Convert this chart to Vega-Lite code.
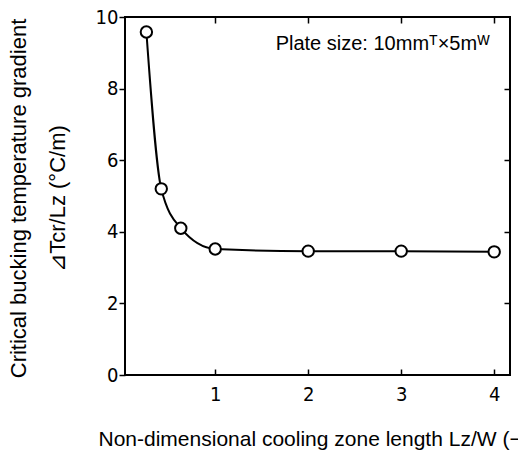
{
  "$schema": "https://vega.github.io/schema/vega-lite/v6.json",
  "width": 385,
  "height": 358,
  "autosize": {"type": "none"},
  "padding": {"left": 125, "top": 17, "right": 8, "bottom": 78},
  "background": "white",
  "config": {
    "view": {"stroke": "black", "strokeWidth": 2},
    "axis": {
      "grid": false,
      "domain": false,
      "tickColor": "black",
      "tickWidth": 1.5,
      "gridColor": "black",
      "gridOpacity": 1,
      "gridWidth": 1.5,
      "gridDash": [6, 2000],
      "labelColor": "black",
      "labelFont": "Liberation Sans Narrow, DejaVu Sans Condensed, sans-serif",
      "labelFontSize": 20,
      "titleColor": "black",
      "titleFont": "Liberation Sans, Arial, sans-serif",
      "titleFontWeight": "normal",
      "titleFontSize": 21
    }
  },
  "data": {
    "values": [
      {"x": 0.26, "y": 9.58},
      {"x": 0.42, "y": 5.2},
      {"x": 0.63, "y": 4.1},
      {"x": 1.0, "y": 3.52},
      {"x": 2.0, "y": 3.46},
      {"x": 3.0, "y": 3.46},
      {"x": 4.0, "y": 3.44}
    ]
  },
  "layer": [
    {
      "mark": {"type": "line", "interpolate": "monotone", "color": "black", "strokeWidth": 2},
      "encoding": {
        "x": {
          "field": "x", "type": "quantitative",
          "scale": {"domain": [0.03, 4.17], "nice": false, "zero": false},
          "axis": {
            "orient": "bottom",
            "values": [1, 2, 3, 4],
            "ticks": false,
            "grid": true,
            "labelPadding": 9,
            "title": "Non-dimensional cooling zone length Lz/W (−)",
            "titleAnchor": "start",
            "titleAlign": "left",
            "titleBaseline": "alphabetic",
            "titleX": -27,
            "titleY": 70
          }
        },
        "y": {
          "field": "y", "type": "quantitative",
          "scale": {"domain": [0, 10], "nice": false},
          "axis": {
            "orient": "left",
            "values": [0, 2, 4, 6, 8, 10],
            "tickSize": 6,
            "labelPadding": 1,
            "title": ["Critical bucking temperature gradient", "⊿Tcr/Lz (°C/m)"],
            "titleFontSize": 22,
            "titleLineHeight": 39,
            "titleAngle": -90,
            "titleAnchor": "middle",
            "titleBaseline": "top",
            "titleX": -117,
            "titleY": 181
          }
        }
      }
    },
    {
      "mark": {"type": "point", "shape": "circle", "filled": true, "fill": "white", "stroke": "black", "strokeWidth": 2, "size": 130, "opacity": 1},
      "encoding": {
        "x": {
          "field": "x", "type": "quantitative",
          "axis": {"orient": "top", "values": [1, 2, 3, 4], "labels": false, "ticks": false, "grid": true, "title": null}
        },
        "y": {
          "field": "y", "type": "quantitative",
          "axis": {"orient": "right", "values": [2, 4, 6, 8], "labels": false, "ticks": false, "grid": true, "title": null}
        }
      }
    },
    {
      "data": {"values": [{"x": 1.65, "y": 9.08, "label": "Plate size: 10mmᵀ×5mᵂ"}]},
      "mark": {"type": "text", "align": "left", "baseline": "alphabetic", "font": "Liberation Sans, Arial, sans-serif", "fontSize": 20, "color": "black"},
      "encoding": {
        "x": {"field": "x", "type": "quantitative", "axis": null},
        "y": {"field": "y", "type": "quantitative", "axis": null},
        "text": {"field": "label"}
      }
    }
  ],
  "resolve": {"axis": {"x": "independent", "y": "independent"}}
}
